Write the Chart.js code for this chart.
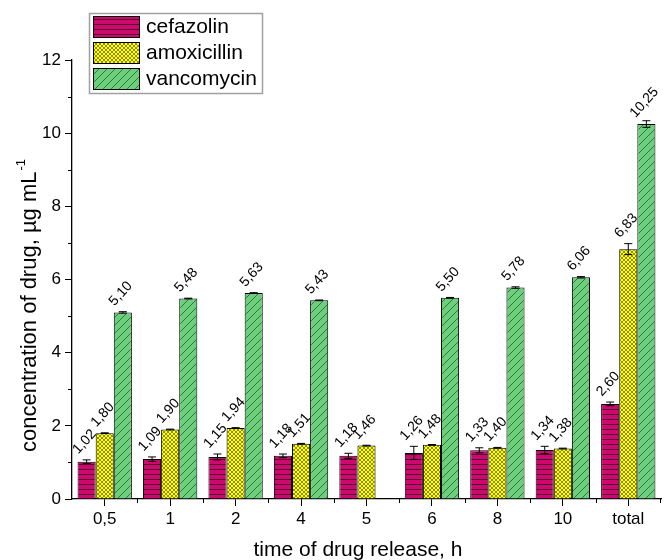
<!DOCTYPE html>
<html>
<head>
<meta charset="utf-8">
<script src="https://cdn.jsdelivr.net/npm/chart.js@4/dist/chart.umd.min.js"></script>
<style>
  html, body { margin: 0; padding: 0; background: #fff; }
  #main-chart { display: block; }
</style>
</head>
<body>
<canvas id="main-chart" width="664" height="560"></canvas>
<script>
const CATEGORIES = ['0,5', '1', '2', '4', '5', '6', '8', '10', 'total'];

const CEFAZOLIN      = [1.02, 1.09, 1.15, 1.18, 1.18, 1.26, 1.33, 1.34, 2.60];
const CEFAZOLIN_ERR  = [0.05, 0.06, 0.08, 0.05, 0.07, 0.18, 0.07, 0.10, 0.05];
const AMOXICILLIN    = [1.80, 1.90, 1.94, 1.51, 1.46, 1.48, 1.40, 1.38, 6.83];
const AMOXICILLIN_ERR = [0.01, 0.01, 0.01, 0.01, 0.01, 0.01, 0.01, 0.01, 0.15];
const VANCOMYCIN     = [5.10, 5.48, 5.63, 5.43, null, 5.50, 5.78, 6.06, 10.25];
const VANCOMYCIN_ERR = [0.02, 0.01, 0.01, 0.01, null, 0.01, 0.02, 0.02, 0.09];

const Y_TICKS = [0, 2, 4, 6, 8, 10, 12];

const FONT = "'Liberation Sans', Arial, sans-serif";

// small repeating tiles used as bar fills
function makePattern(kind) {
  const c = document.createElement('canvas');
  const g = c.getContext('2d');
  if (kind === 'lines') {
    c.width = 8; c.height = 5;
    g.fillStyle = '#cc0a6e';
    g.fillRect(0, 0, 8, 5);
    g.fillStyle = '#5a0030';
    g.fillRect(0, 4, 8, 1);
  } else if (kind === 'cross') {
    c.width = 4; c.height = 4;
    g.fillStyle = '#ffff00';
    g.fillRect(0, 0, 4, 4);
    g.strokeStyle = 'rgba(40,40,0,0.75)';
    g.lineWidth = 0.7;
    g.beginPath();
    g.moveTo(0, 0); g.lineTo(4, 4);
    g.moveTo(4, 0); g.lineTo(0, 4);
    g.stroke();
  } else {
    c.width = 8; c.height = 8;
    g.fillStyle = '#6ccf7c';
    g.fillRect(0, 0, 8, 8);
    g.strokeStyle = '#2f6b3a';
    g.lineWidth = 0.9;
    g.beginPath();
    g.moveTo(-1, 9); g.lineTo(9, -1);
    g.moveTo(-1, 1); g.lineTo(1, -1);
    g.moveTo(7, 9); g.lineTo(9, 7);
    g.stroke();
  }
  return g.createPattern(c, 'repeat');
}

const SERIES = [
  { label: 'cefazolin',   data: CEFAZOLIN,   err: CEFAZOLIN_ERR,   fill: makePattern('lines') },
  { label: 'amoxicillin', data: AMOXICILLIN, err: AMOXICILLIN_ERR, fill: makePattern('cross') },
  { label: 'vancomycin',  data: VANCOMYCIN,  err: VANCOMYCIN_ERR,  fill: makePattern('diag') },
];

function fmt(v) {
  return v.toFixed(2).replace('.', ',');
}

// error bars + rotated value labels + minor ticks + titles + legend
const extras = {
  id: 'extras',
  afterDatasetsDraw(chart) {
    const ctx = chart.ctx;
    const y = chart.scales.y;
    ctx.save();
    SERIES.forEach((s, i) => {
      const meta = chart.getDatasetMeta(i);
      meta.data.forEach((bar, j) => {
        const v = s.data[j];
        if (v === null) return;
        const e = s.err[j] || 0;
        const yt = y.getPixelForValue(v + e);
        const yb = y.getPixelForValue(v - e);
        ctx.strokeStyle = '#000';
        ctx.lineWidth = 1;
        ctx.beginPath();
        ctx.moveTo(bar.x, yb); ctx.lineTo(bar.x, yt);
        ctx.moveTo(bar.x - 4, yt); ctx.lineTo(bar.x + 4, yt);
        ctx.moveTo(bar.x - 4, yb); ctx.lineTo(bar.x + 4, yb);
        ctx.stroke();

        const top = Math.min(yt, bar.y);
        ctx.save();
        ctx.translate(bar.x - 2, top - 18);
        ctx.rotate(-48 * Math.PI / 180);
        ctx.fillStyle = '#000';
        ctx.font = '14px ' + FONT;
        ctx.textAlign = 'center';
        ctx.textBaseline = 'middle';
        ctx.fillText(fmt(v), 0, 0);
        ctx.restore();
      });
    });
    ctx.restore();
  },
  afterDraw(chart) {
    const ctx = chart.ctx;
    const { x, y } = chart.scales;
    const area = chart.chartArea;
    ctx.save();
    ctx.strokeStyle = '#000';
    ctx.lineWidth = 1;
    ctx.beginPath();
    for (let v = 1; v < 12; v += 2) {
      const py = Math.round(y.getPixelForValue(v)) + 0.5;
      ctx.moveTo(area.left - 4, py); ctx.lineTo(area.left, py);
    }
    for (let i = 0; i < CATEGORIES.length - 1; i++) {
      const px = Math.round((x.getPixelForValue(i) + x.getPixelForValue(i + 1)) / 2) + 0.5;
      ctx.moveTo(px, area.bottom); ctx.lineTo(px, area.bottom + 4);
    }
    const lastPx = Math.round(area.right) - 0.5;
    ctx.moveTo(lastPx, area.bottom); ctx.lineTo(lastPx, area.bottom + 4);
    ctx.stroke();

    // axis titles
    ctx.fillStyle = '#000';
    ctx.font = '21px ' + FONT;
    ctx.textAlign = 'center';
    ctx.textBaseline = 'middle';
    ctx.fillText('time of drug release, h', 358, 550);

    ctx.save();
    ctx.translate(30, 306);
    ctx.rotate(-Math.PI / 2);
    const main = 'concentration of drug, µg mL';
    ctx.font = '22px ' + FONT;
    const w1 = ctx.measureText(main).width;
    ctx.font = '13px ' + FONT;
    const w2 = ctx.measureText('-1').width;
    const start = -(w1 + w2) / 2;
    ctx.textAlign = 'left';
    ctx.font = '22px ' + FONT;
    ctx.fillText(main, start, 0);
    ctx.font = '13px ' + FONT;
    ctx.fillText('-1', start + w1 + 1, -9);
    ctx.restore();

    // legend
    const lx = 89, ly = 13, lw = 173, lh = 80;
    ctx.fillStyle = '#fff';
    ctx.fillRect(lx, ly, lw, lh);
    ctx.strokeStyle = '#a0a0a0';
    ctx.lineWidth = 1.5;
    ctx.strokeRect(lx + 0.5, ly + 0.5, lw, lh);
    SERIES.forEach((s, i) => {
      const ry = ly + 3 + i * 26;
      ctx.fillStyle = s.fill;
      ctx.fillRect(93, ry, 47, 22);
      ctx.strokeStyle = '#000';
      ctx.lineWidth = 1;
      ctx.strokeRect(93.5, ry + 0.5, 46, 21);
      ctx.fillStyle = '#000';
      ctx.font = '21px ' + FONT;
      ctx.textAlign = 'left';
      ctx.textBaseline = 'middle';
      ctx.fillText(s.label, 146, ry + 11);
    });
    ctx.restore();
  }
};

new Chart(document.getElementById('main-chart'), {
  type: 'bar',
  data: {
    labels: CATEGORIES,
    datasets: SERIES.map(s => ({
      label: s.label,
      data: s.data,
      backgroundColor: s.fill,
      borderColor: '#000',
      borderWidth: 1,
      borderSkipped: 'bottom',
      categoryPercentage: 0.83,
      barPercentage: 1.0,
    })),
  },
  options: {
    responsive: false,
    animation: false,
    devicePixelRatio: 1,
    layout: { padding: { top: 60, right: 3, left: 0, bottom: 0 } },
    plugins: {
      legend: { display: false },
      tooltip: { enabled: false },
    },
    scales: {
      x: {
        type: 'category',
        offset: true,
        grid: { offset: false, drawOnChartArea: false, tickLength: 7, color: '#000' },
        border: { color: '#000', width: 1.3 },
        ticks: { color: '#000', font: { family: FONT, size: 17 }, padding: 3, maxRotation: 0 },
        afterFit: (scale) => { scale.height = 61; },
      },
      y: {
        min: 0,
        max: 12,
        afterBuildTicks: (scale) => { scale.ticks = Y_TICKS.map(v => ({ value: v })); },
        grid: { drawOnChartArea: false, tickLength: 7, color: '#000' },
        border: { color: '#000', width: 1.3 },
        ticks: { color: '#000', font: { family: FONT, size: 17 }, padding: 4 },
        afterFit: (scale) => { scale.width = 72; },
      },
    },
  },
  plugins: [extras],
});
</script>
</body>
</html>
